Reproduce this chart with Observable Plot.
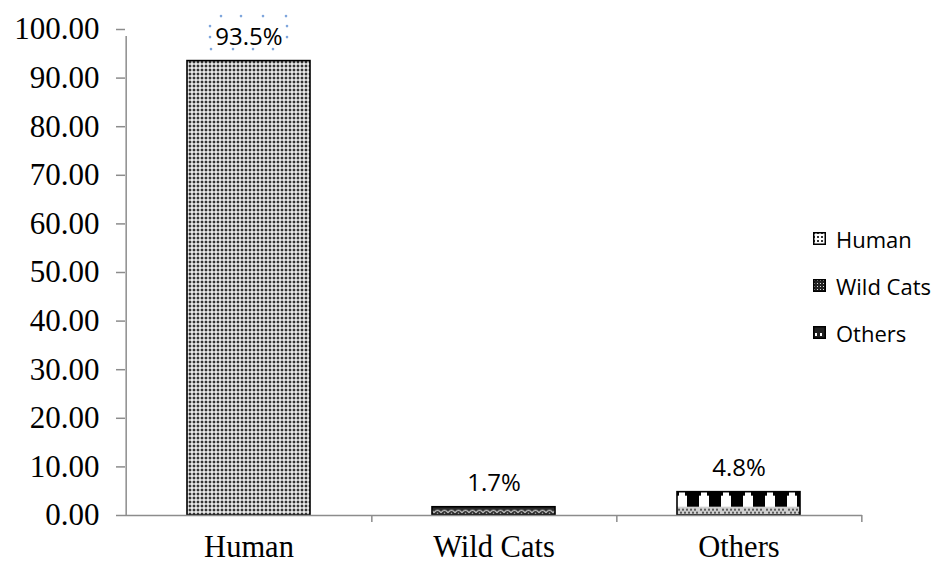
<!DOCTYPE html>
<html>
<head>
<meta charset="utf-8">
<script src="https://cdn.jsdelivr.net/npm/d3@7"></script>
<script src="https://cdn.jsdelivr.net/npm/@observablehq/plot@0.6"></script>
<style>
  body { margin: 0; background: #fff; }
  #wrap { position: relative; width: 940px; height: 563px; }
  #legend { position: absolute; left: 813px; top: 215px; font-family: "Open Sans", sans-serif; font-size: 22px; color: #000; }
  .item { display: flex; align-items: center; height: 47px; }
  .item svg { margin-right: 10px; }
</style>
</head>
<body>
<div id="wrap"></div>
<script>
const categories = ["Human", "Wild Cats", "Others"];
const values = [93.5, 1.7, 4.8];
const valueLabels = ["93.5%", "1.7%", "4.8%"];
const yTicks = [0, 10, 20, 30, 40, 50, 60, 70, 80, 90, 100];
const patternIds = ["pHuman", "pWild", "pOthers"];

const data = categories.map((c, i) => ({cat: c, value: values[i], label: valueLabels[i]}));
const serif = "'Liberation Serif', 'Times New Roman', serif";
const sans = "'Open Sans', sans-serif";
const halfStep = (940 - 125 - 78) / 3 / 2;

// selection handles drawn around the first value label (decoration)
const handleOffsets = [
  [-28, -45], [-8, -45], [14, -45], [37, -45],
  [-38, -12], [-16, -12], [4, -12], [24, -12],
  [-39, -35], [-39, -24], [38, -35], [38, -24]
];
const handleMarks = handleOffsets.map(([dx, dy]) =>
  Plot.dot(data.slice(0, 1), {x: "cat", y: "value", dx, dy, r: 1.3, fill: "#7fa6dc", stroke: null})
);

const chart = Plot.plot({
  width: 940,
  height: 563,
  marginLeft: 125,
  marginRight: 78,
  marginTop: 29,
  marginBottom: 48,
  style: {background: "#fff", color: "#000"},
  x: {domain: categories, paddingInner: 0.5, paddingOuter: 0.25, axis: null},
  y: {domain: [0, 100], axis: null},
  color: {domain: categories, range: patternIds.map(id => `url(#${id})`)},
  marks: [
    Plot.barY(data, {x: "cat", y: "value", fill: "cat", stroke: "#000", strokeWidth: 1.6}),
    Plot.ruleY([0], {stroke: "#8c8c8c", strokeWidth: 1.5}),
    Plot.ruleX(categories, {x: d => d, dx: halfStep, y1: 0, y2: 0, insetBottom: -7, stroke: "#8c8c8c", strokeWidth: 1.5}),
    Plot.ruleX([categories[0]], {x: d => d, dx: -halfStep, y1: 0, y2: 100, insetBottom: -7, stroke: "#8c8c8c", strokeWidth: 1.5}),
    Plot.axisY({ticks: yTicks, tickFormat: d => d.toFixed(2), tickSize: 9, tickPadding: 17, label: null,
      fontSize: 31, fontFamily: serif, stroke: "#8c8c8c", strokeWidth: 1.5, fill: "#000"}),
    Plot.axisX({tickSize: 0, tickPadding: 20, label: null, fontSize: 30.5, fontFamily: serif, fill: "#000"}),
    ...handleMarks,
    Plot.text(data, {x: "cat", y: "value", text: "label", dy: -24, fontSize: 24, fontFamily: sans, fill: "#000"})
  ]
});

// patterns
const ns = "http://www.w3.org/2000/svg";
const yS = chart.scale("y");
const xS = chart.scale("x");
const othersTop = yS.apply(values[2]);
const othersLeft = xS.apply(categories[2]);
const defs = document.createElementNS(ns, "defs");
defs.innerHTML = `
<pattern id="pHuman" patternUnits="userSpaceOnUse" width="4" height="4">
  <rect width="4" height="4" fill="#f2f2f2"/>
  <circle cx="2" cy="2" r="1.7" fill="#8a8a8a"/>
  <circle cx="2" cy="2" r="1.1" fill="#1e1e1e"/>
</pattern>
<pattern id="pWild" patternUnits="userSpaceOnUse" width="7" height="8" y="${yS.apply(values[1])}">
  <rect width="7" height="8" fill="#2a2a2a"/>
  <path d="M0,6 Q3.5,1 7,6" fill="none" stroke="#e8e8e8" stroke-width="1.1"/>
  <circle cx="3.5" cy="6.5" r="0.8" fill="#bbb"/>
</pattern>
<pattern id="pOthers" patternUnits="userSpaceOnUse" width="22" height="40" x="${othersLeft}" y="${othersTop}">
  <rect width="22" height="40" fill="#fff"/>
  <rect x="10" y="0" width="12" height="16" fill="#000"/>
  <rect x="0" y="0" width="2" height="4" fill="#000"/>
  <rect x="8" y="0" width="2" height="4" fill="#000"/>
  <rect x="0" y="15" width="22" height="25" fill="#d0d0d0"/>
  <circle cx="2" cy="18" r="1" fill="#333"/><circle cx="6" cy="18" r="1" fill="#333"/>
  <circle cx="10" cy="18" r="1" fill="#333"/><circle cx="14" cy="18" r="1" fill="#333"/>
  <circle cx="18" cy="18" r="1" fill="#333"/>
  <circle cx="4" cy="21" r="1" fill="#333"/><circle cx="8" cy="21" r="1" fill="#333"/>
  <circle cx="12" cy="21" r="1" fill="#333"/><circle cx="16" cy="21" r="1" fill="#333"/>
  <circle cx="20" cy="21" r="1" fill="#333"/>
  <circle cx="2" cy="24" r="1" fill="#333"/><circle cx="6" cy="24" r="1" fill="#333"/>
  <circle cx="10" cy="24" r="1" fill="#333"/><circle cx="14" cy="24" r="1" fill="#333"/>
  <circle cx="18" cy="24" r="1" fill="#333"/>
</pattern>
<pattern id="lHuman" patternUnits="userSpaceOnUse" width="4" height="4">
  <rect width="4" height="4" fill="#fff"/>
  <rect x="0" y="0" width="2" height="2" fill="#333"/>
</pattern>
<pattern id="lWild" patternUnits="userSpaceOnUse" width="3" height="3">
  <rect width="3" height="3" fill="#222"/>
  <rect x="1" y="1" width="1" height="1" fill="#ddd"/>
</pattern>
<pattern id="lOthers" patternUnits="userSpaceOnUse" width="12" height="12">
  <rect width="12" height="12" fill="#222"/>
  <rect x="2" y="7" width="2" height="3" fill="#fff"/>
  <rect x="7" y="7" width="2" height="3" fill="#fff"/>
</pattern>`;
chart.insertBefore(defs, chart.firstChild);

const wrap = document.getElementById("wrap");
wrap.appendChild(chart);

const legend = document.createElement("div");
legend.id = "legend";
const legendPatterns = ["lHuman", "lWild", "lOthers"];
categories.forEach((c, i) => {
  const item = document.createElement("div");
  item.className = "item";
  item.innerHTML = `<svg width="13" height="13"><rect x="0.75" y="0.75" width="11.5" height="11.5" fill="url(#${legendPatterns[i]})" stroke="#000" stroke-width="1.5"/></svg><span>${c}</span>`;
  legend.appendChild(item);
});
wrap.appendChild(legend);
</script>
</body>
</html>
